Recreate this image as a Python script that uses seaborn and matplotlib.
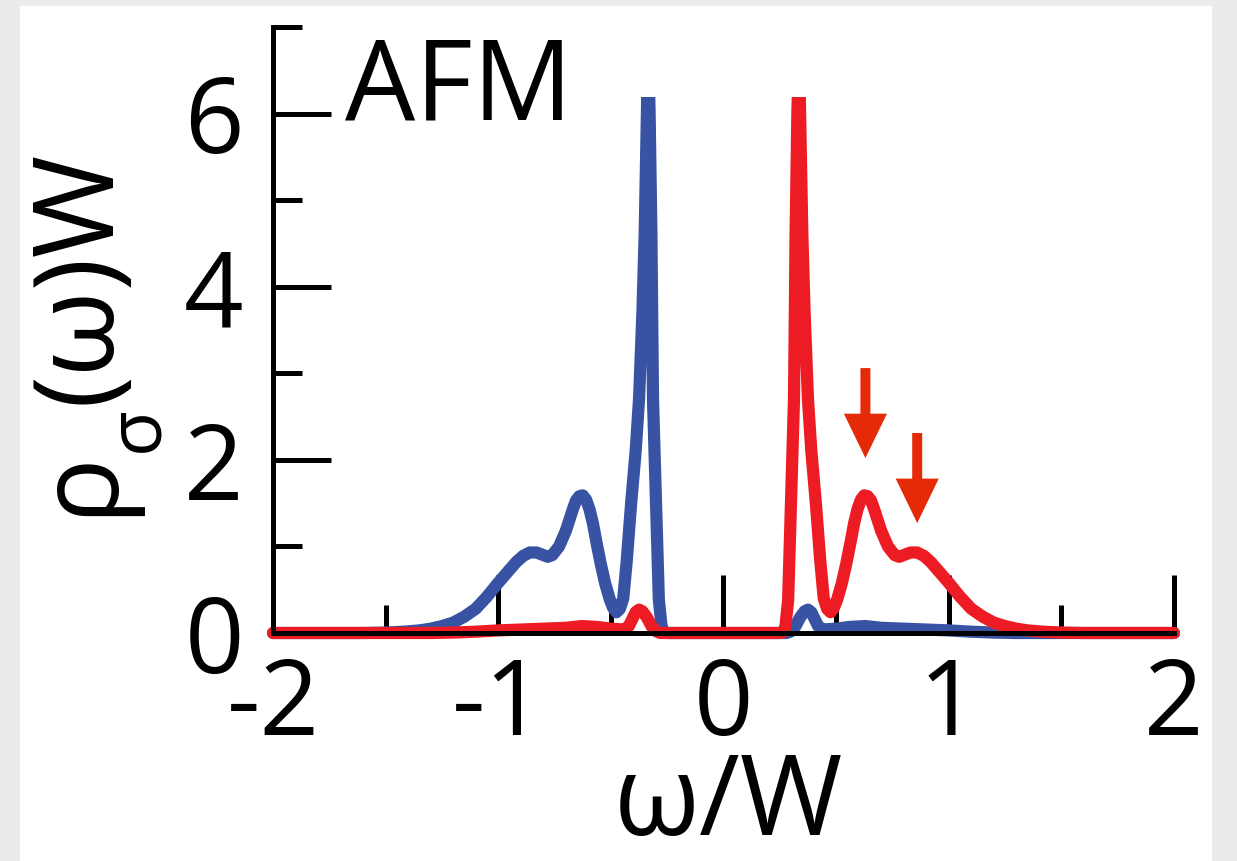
import numpy as np
import pandas as pd
import matplotlib
matplotlib.use("Agg")
import matplotlib.pyplot as plt
from matplotlib.patches import Rectangle
import seaborn as sns

# ---- data ----
blue_x = [-2.0, -1.6, -1.5, -1.42, -1.35, -1.3, -1.25, -1.2, -1.15, -1.1, -1.05, -1.0,
          -0.96, -0.92, -0.89, -0.86, -0.83, -0.8, -0.78, -0.76, -0.73, -0.7, -0.67,
          -0.655, -0.64, -0.625, -0.61, -0.595, -0.58, -0.565, -0.545, -0.525, -0.505,
          -0.49, -0.475, -0.46, -0.445, -0.43, -0.41, -0.39, -0.375, -0.36, -0.35, -0.34,
          -0.335, -0.328, -0.32, -0.313, -0.3, -0.287, -0.275, -0.265, -0.25,
          0.0, 0.28, 0.3, 0.32, 0.34, 0.36, 0.375, 0.39, 0.405, 0.42, 0.44, 0.5, 0.56,
          0.63, 0.7, 0.8, 0.9, 1.0, 1.1, 1.2, 1.3, 2.0]
blue_y = [0, 0, 0.005, 0.015, 0.03, 0.05, 0.08, 0.12, 0.19, 0.28, 0.42, 0.58,
          0.7, 0.82, 0.89, 0.93, 0.93, 0.9, 0.88, 0.9, 1.0, 1.18, 1.42,
          1.53, 1.58, 1.59, 1.54, 1.43, 1.27, 1.06, 0.8, 0.57, 0.39,
          0.29, 0.24, 0.28, 0.4, 0.82, 1.5, 2.1, 2.7, 3.7, 4.6, 6.0,
          6.8, 6.0, 4.6, 2.7, 1.54, 0.38, 0.08, 0.01, 0,
          0, 0, 0.02, 0.08, 0.18, 0.25, 0.27, 0.24, 0.16, 0.08, 0.04, 0.05, 0.07,
          0.08, 0.06, 0.05, 0.04, 0.03, 0.015, 0.005, 0, 0]

red_x = [-2.0, -1.3, -1.2, -1.1, -1.0, -0.9, -0.8, -0.7, -0.63, -0.56, -0.5, -0.44,
         -0.42, -0.405, -0.39, -0.375, -0.36, -0.34, -0.32, -0.3, -0.28, 0.0,
         0.25, 0.265, 0.275, 0.287, 0.3, 0.313, 0.32, 0.328, 0.335, 0.34, 0.35,
         0.36, 0.375, 0.39, 0.41, 0.43, 0.445, 0.46, 0.475, 0.49, 0.505, 0.525,
         0.545, 0.565, 0.58, 0.595, 0.61, 0.625, 0.64, 0.655, 0.67, 0.7, 0.73,
         0.76, 0.78, 0.8, 0.83, 0.86, 0.89, 0.92, 0.96, 1.0, 1.05, 1.1, 1.15, 1.2,
         1.25, 1.3, 1.35, 1.42, 1.5, 1.6, 2.0]
red_y = [0, 0, 0.005, 0.015, 0.03, 0.04, 0.05, 0.06, 0.08, 0.07, 0.05, 0.04,
         0.08, 0.16, 0.24, 0.27, 0.25, 0.18, 0.08, 0.02, 0, 0,
         0, 0.01, 0.08, 0.38, 1.54, 2.7, 4.6, 6.0, 6.8, 6.0, 4.6,
         3.7, 2.7, 2.1, 1.5, 0.82, 0.4, 0.28, 0.24, 0.29, 0.39, 0.57,
         0.8, 1.06, 1.27, 1.43, 1.54, 1.59, 1.58, 1.53, 1.42, 1.18, 1.0,
         0.9, 0.88, 0.9, 0.93, 0.93, 0.89, 0.82, 0.7, 0.58, 0.42, 0.28, 0.19, 0.12,
         0.08, 0.05, 0.03, 0.015, 0.005, 0, 0]

arrow_x = [0.63, 0.86]
arrow_tip = [2.02, 1.27]
arrow_tail = [3.06, 2.31]

x_major = [-2, -1, 0, 1, 2]
x_minor = [-1.5, -0.5, 0.5, 1.5]
y_major = [0, 2, 4, 6]
y_minor = [1, 3, 5, 7]

BLUE = "#3953a4"
RED = "#ed1c24"
ARROW = "#e42a06"

sns.set_theme(style="white")
plt.rcParams["font.family"] = ["Open Sans", "DejaVu Sans"]
plt.rcParams["axes.unicode_minus"] = False
for k in ["text.color", "axes.labelcolor", "xtick.color", "ytick.color"]:
    plt.rcParams[k] = "black"

W, H = 1237, 861
fig = plt.figure(figsize=(W / 100, H / 100), dpi=100)
fig.patch.set_facecolor("#ebebe9")
fig.add_artist(Rectangle((20 / W, 0), (1212 - 20) / W, (H - 6) / H,
                         transform=fig.transFigure, facecolor="white",
                         edgecolor="none", zorder=0))

ax = fig.add_axes([273 / W, 1 - 633 / H, (1174 - 273) / W, (633 - 27) / H])
ax.set_facecolor("none")

df_b = pd.DataFrame({"w": blue_x, "rho": blue_y})
df_r = pd.DataFrame({"w": red_x, "rho": red_y})
sns.lineplot(data=df_b, x="w", y="rho", ax=ax, color=BLUE, lw=8.8,
             estimator=None, sort=False, zorder=1.5)
sns.lineplot(data=df_r, x="w", y="rho", ax=ax, color=RED, lw=8.8,
             estimator=None, sort=False, zorder=1.6)

clip = Rectangle((-2.1, -0.5), 4.15, 6.69, transform=ax.transData)
for ln in ax.lines:
    ln.set_clip_path(clip)
    ln.set_solid_joinstyle("round")

ax.set_xlim(-2, 2)
ax.set_ylim(0, 7)

for sp in ["top", "right"]:
    ax.spines[sp].set_visible(False)
for sp in ["left", "bottom"]:
    ax.spines[sp].set_linewidth(3.6)
    ax.spines[sp].set_color("black")
    ax.spines[sp].set_zorder(3)

ax.set_xticks(x_major)
ax.set_xticks(x_minor, minor=True)
ax.set_yticks(y_major)
ax.set_yticks(y_minor, minor=True)
ax.set_xticklabels([str(v) for v in x_major])
ax.set_yticklabels([str(v) for v in y_major])

ax.tick_params(which="both", direction="in", width=3.6, color="black",
               bottom=True, left=True, top=False, right=False)
ax.tick_params(axis="x", which="major", length=42, pad=16, labelsize=75)
ax.tick_params(axis="x", which="minor", length=20)
ax.tick_params(axis="y", which="major", length=42, pad=21, labelsize=75)
ax.tick_params(axis="y", which="minor", length=21)

ax.set_xlabel("ω/W", fontsize=80)
ax.xaxis.set_label_coords(0.506, -0.193)
ax.set_ylabel("")

# y label composed of pieces so the subscript sits low like the reference
def ftext(px, py, s, size):
    fig.text(px / W, 1 - py / H, s, fontsize=size, rotation=90,
             rotation_mode="anchor", ha="left", va="baseline")

ftext(110, 516, "ρ", 80)
ftext(157, 452, "σ", 54)
ftext(110, 404, "(ω)W", 80)

ax.text(-1.68, 5.93, "AFM", fontsize=80, ha="left", va="baseline")

for xa, tip, tail in zip(arrow_x, arrow_tip, arrow_tail):
    ax.annotate("", xy=(xa, tip), xytext=(xa, tail),
                arrowprops=dict(arrowstyle="simple,head_length=3.2,head_width=3.1,tail_width=0.72",
                                mutation_scale=10, color=ARROW, lw=0,
                                shrinkA=0, shrinkB=0))

fig.savefig("out.png", dpi=100, facecolor=fig.get_facecolor())
